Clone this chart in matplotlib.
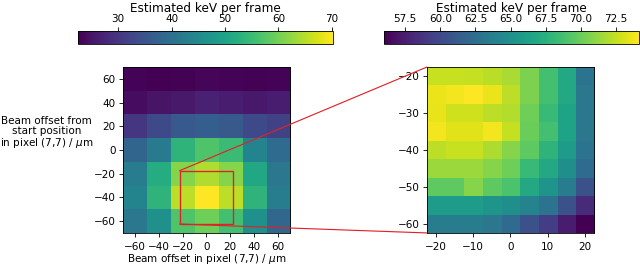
import numpy as np
import matplotlib
matplotlib.use("Agg")
import matplotlib.pyplot as plt
from matplotlib.patches import Rectangle, ConnectionPatch

# coarse scan: 7x7, 20 um steps, rows listed top (y=60) to bottom (y=-60)
coarse_x = [-60, -40, -20, 0, 20, 40, 60]
coarse_y = [60, 40, 20, 0, -20, -40, -60]
coarse_kev = [
    [23.0, 22.5, 22.8, 23.2, 23.0, 22.8, 23.0],
    [24.0, 25.0, 25.8, 26.8, 26.3, 25.8, 26.3],
    [30.0, 33.0, 35.8, 36.8, 35.8, 33.0, 32.0],
    [38.0, 42.0, 53.5, 57.0, 55.0, 44.0, 39.2],
    [42.5, 52.0, 61.5, 64.5, 61.5, 51.0, 41.5],
    [44.0, 53.5, 65.5, 70.2, 65.5, 53.5, 42.5],
    [41.5, 46.5, 57.0, 59.7, 56.0, 46.5, 38.2],
]

# fine scan around the maximum: 9x9, 5 um steps, rows top (y=-20) to bottom (y=-60)
fine_x = [-20, -15, -10, -5, 0, 5, 10, 15, 20]
fine_y = [-20, -25, -30, -35, -40, -45, -50, -55, -60]
fine_kev = [
    [72.6, 72.6, 72.5, 72.2, 71.8, 70.5, 68.7, 66.9, 62.9],
    [73.6, 73.8, 74.1, 73.6, 72.3, 70.5, 68.7, 66.9, 63.2],
    [73.5, 72.8, 72.8, 72.3, 72.0, 70.1, 68.3, 66.5, 63.2],
    [73.8, 73.3, 73.3, 73.8, 72.5, 70.0, 68.7, 66.5, 63.2],
    [72.3, 72.6, 72.6, 71.9, 70.8, 69.6, 67.8, 66.0, 62.9],
    [71.4, 71.4, 71.4, 70.8, 70.1, 68.3, 66.9, 65.0, 62.3],
    [69.6, 69.6, 70.8, 69.6, 69.0, 66.9, 65.4, 63.6, 60.5],
    [66.0, 66.0, 66.0, 65.4, 65.0, 64.1, 62.9, 60.5, 58.2],
    [63.6, 63.6, 63.6, 63.2, 62.3, 60.5, 59.3, 57.4, 56.0],
]

cbar_label = "Estimated keV per frame"
ylabel = "Beam offset from\nstart position\nin pixel (7,7) / $\\mu$m"
xlabel = "Beam offset in pixel (7,7) / $\\mu$m"


def extent(xs, ys):
    dx = abs(xs[1] - xs[0]) / 2
    dy = abs(ys[1] - ys[0]) / 2
    return [min(xs) - dx, max(xs) + dx, min(ys) - dy, max(ys) + dy]


fig = plt.figure(figsize=(640 / 75, 265 / 75), dpi=75)
ax1 = fig.add_axes([0.192, 0.121, 0.261, 0.626])
ax2 = fig.add_axes([0.667, 0.121, 0.261, 0.626])
cax1 = fig.add_axes([0.122, 0.834, 0.398, 0.049])
cax2 = fig.add_axes([0.600, 0.834, 0.398, 0.049])

coarse = np.array(coarse_kev)
fine = np.array(fine_kev)

im1 = ax1.imshow(coarse, cmap="viridis", extent=extent(coarse_x, coarse_y),
                 origin="upper", aspect="auto", interpolation="nearest")
im2 = ax2.imshow(fine, cmap="viridis", extent=extent(fine_x, fine_y),
                 origin="upper", aspect="auto", interpolation="nearest")

ax1.set_xticks(coarse_x)
ax1.set_yticks(coarse_y)
ax1.set_xlabel(xlabel, labelpad=0)
ax2.set_xticks([-20, -10, 0, 10, 20])
ax2.set_yticks([-20, -30, -40, -50, -60])
for ax in (ax1, ax2):
    ax.tick_params(axis="x", pad=5)

fig.text(0.073, 0.498, ylabel, ha="center", va="center", linespacing=1.05)

for im, cax in ((im1, cax1), (im2, cax2)):
    cb = fig.colorbar(im, cax=cax, orientation="horizontal")
    cax.xaxis.set_ticks_position("top")
    cax.xaxis.set_label_position("top")
    cb.set_label(cbar_label, fontsize=11.5, labelpad=2)
cax1.set_xticks([30, 40, 50, 60, 70])

# zoom box and connectors
red = "#e02228"
fx0, fx1, fy0, fy1 = extent(fine_x, fine_y)
ax1.add_patch(Rectangle((fx0, fy0), fx1 - fx0, fy1 - fy0,
                        fill=False, edgecolor=red, linewidth=1.3))
for py in (fy1, fy0):
    con = ConnectionPatch(xyA=(fx0, py), coordsA=ax1.transData,
                          xyB=(fx0, py), coordsB=ax2.transData,
                          color=red, linewidth=1.1)
    fig.add_artist(con)

fig.savefig("out.png", dpi=75)
